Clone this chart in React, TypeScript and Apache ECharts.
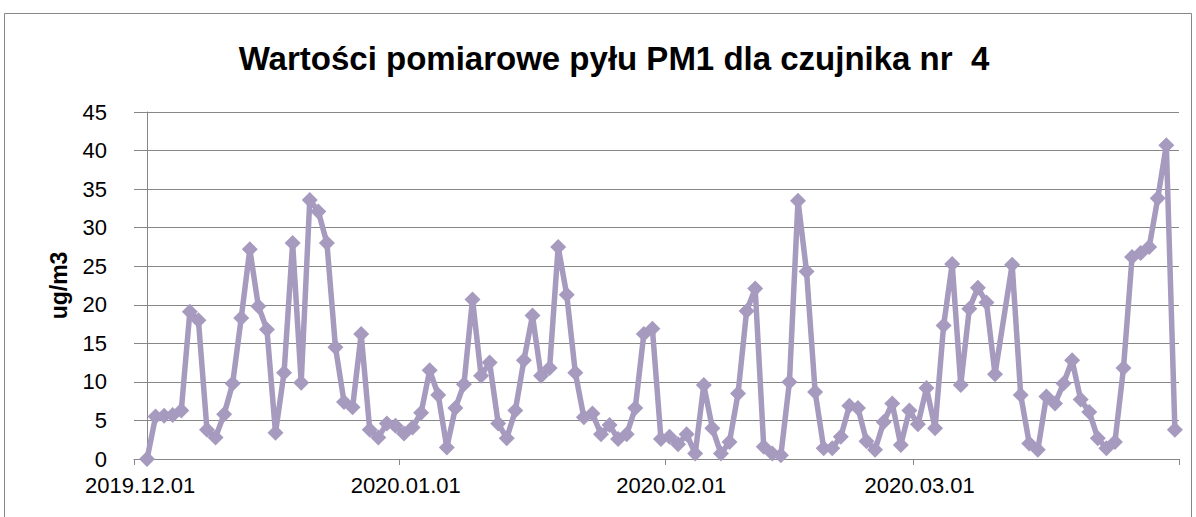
import React, { useEffect, useRef } from "react";
import * as echarts from "echarts";

const TITLE = "Wartości pomiarowe pyłu PM1 dla czujnika nr  4";
const Y_NAME = "ug/m3";
const START_DATE = "2019-12-01";
// daily PM1 values, one per day from START_DATE (null = no measurement)
const decValues = [0, 5.5, 5.6, 5.7, 6.3, 19.1, 18.0, 3.8, 2.8, 5.8, 9.8, 18.3, 27.2, 19.8, 16.8, 3.4, 11.2, 28.0, 9.9, 33.6, 32.1, 28.0, 14.5, 7.4, 6.7, 16.2, 3.8, 2.8, 4.6, 4.3, 3.3];
const janValues = [4.1, 6.0, 11.5, 8.3, 1.5, 6.6, 9.7, 20.7, 10.8, 12.5, 4.6, 2.7, 6.3, 12.8, 18.6, 10.8, 11.8, 27.5, 21.3, 11.2, 5.4, 5.9, 3.2, 4.4, 2.6, 3.2, 6.6, 16.2, 16.9, 2.6, 2.9];
const febValues = [1.9, 3.2, 0.7, 9.6, 4.0, 0.7, 2.2, 8.5, 19.2, 22.1, 1.6, 0.7, 0.5, 10.0, 33.5, 24.3, 8.7, 1.4, 1.4, 2.9, 6.9, 6.6, 2.3, 1.2, 4.8, 7.2, 1.8, 6.3, 4.5];
const marValues = [9.2, 4.0, 17.3, 25.3, 9.6, 19.5, 22.2, 20.3, 11.0, null, 25.2, 8.3, 2.0, 1.2, 8.1, 7.2, 9.8, 12.8, 7.7, 6.1, 2.7, 1.4, 2.2, 11.8, 26.2, 26.7, 27.5, 33.8, 40.7, 3.8];
const monthLabels = ["2019.12.01", "2020.01.01", "2020.02.01", "2020.03.01"];
const axisEndLabel = "2020.04.01";

const DAY = 86400000;
const parseDot = (s: string) => {
  const [y, m, d] = s.split(/[.-]/).map(Number);
  return Date.UTC(y, m - 1, d);
};

export default function App() {
  const ref = useRef<HTMLDivElement>(null);
  useEffect(() => {
    if (!ref.current) return;
    const chart = echarts.init(ref.current, undefined, { renderer: "svg" });
    const start = parseDot(START_DATE);
    // x in days since START_DATE
    const dayOf = (s: string) => (parseDot(s) - start) / DAY;
    const all = [...decValues, ...janValues, ...febValues, ...marValues];
    const data = all.map((v, i) => [i, v]).filter((p) => p[1] !== null);
    const shift = 1.52;
    const labelShift = 0.8;
    const axisMin = dayOf(monthLabels[0]) - shift;
    const axisMax = dayOf(axisEndLabel) - shift;
    const tickVals = [...monthLabels, axisEndLabel].map((s) => dayOf(s) - shift);
    const labelVals = monthLabels.map((s) => dayOf(s) - labelShift);
    const gray = "#878787";
    chart.setOption({
      animation: false,
      backgroundColor: "#ffffff",
      title: {
        text: TITLE,
        left: 609,
        top: 37,
        textAlign: "center",
        textStyle: {
          fontFamily: "Liberation Sans",
          fontWeight: "bold",
          fontSize: 33,
          color: "#000",
        },
      },
      graphic: [
        {
          type: "rect",
          shape: { x: 4.5, y: 13.5, width: 1187, height: 540 },
          style: { fill: "none", stroke: gray, lineWidth: 1 },
          silent: true,
        },
      ],
      grid: { left: 134, right: 17, top: 112, bottom: 58 },
      xAxis: {
        type: "value",
        min: axisMin,
        max: axisMax,
        axisLine: { show: true, onZero: false, lineStyle: { color: gray, width: 1 } },
        axisTick: {
          show: true,
          customValues: tickVals,
          length: 6,
          lineStyle: { color: gray },
        },
        splitLine: { show: false },
        axisLabel: {
          customValues: labelVals,
          formatter: (v: number) => {
            let best = monthLabels[0];
            let bd = Infinity;
            monthLabels.forEach((s) => {
              const d = Math.abs(dayOf(s) - labelShift - v);
              if (d < bd) {
                bd = d;
                best = s;
              }
            });
            return best;
          },
          fontFamily: "Liberation Sans",
          fontSize: 22,
          color: "#000",
          margin: 15,
          showMinLabel: true,
          showMaxLabel: true,
        },
      },
      yAxis: {
        type: "value",
        min: 0,
        max: 45,
        interval: 5,
        name: Y_NAME,
        nameLocation: "middle",
        nameGap: 64,
        nameTextStyle: {
          fontFamily: "Liberation Sans",
          fontWeight: "bold",
          fontSize: 23,
          color: "#000",
        },
        axisLine: { show: true, lineStyle: { color: gray, width: 1 } },
        axisTick: { show: false },
        splitLine: { show: true, lineStyle: { color: gray, width: 1 } },
        axisLabel: {
          fontFamily: "Liberation Sans",
          fontSize: 22,
          color: "#000",
          margin: 27,
        },
      },
      series: [
        {
          type: "line",
          data,
          symbol: "diamond",
          symbolSize: 16,
          connectNulls: true,
          lineStyle: { color: "#A69ABF", width: 5.5 },
          itemStyle: { color: "#A69ABF" },
        },
      ],
    });
    return () => chart.dispose();
  }, []);
  return (
    <div
      ref={ref}
      style={{ position: "fixed", left: 0, top: 0, width: 1196, height: 517, background: "#fff" }}
    />
  );
}
